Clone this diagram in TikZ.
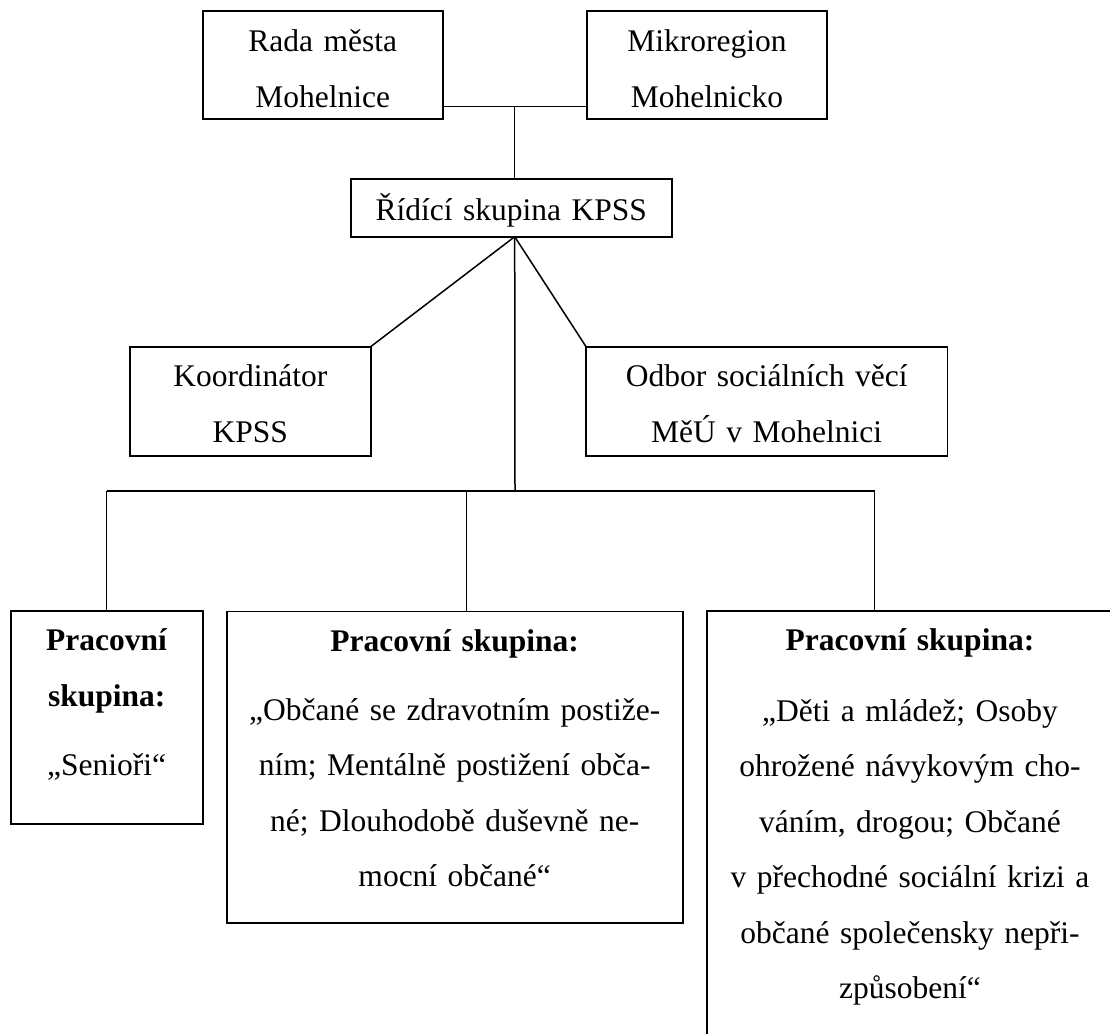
\documentclass[tikz,border=0pt]{standalone}
\usepackage{fontspec}
\setmainfont{Liberation Serif}
\begin{document}
\begin{tikzpicture}[x=1pt,y=-1pt,
  box/.style={draw, line width=1.7pt, inner sep=0pt, outer sep=0pt, align=center, anchor=base,
    font=\fontsize{31.5}{55.5}\selectfont},
  conn/.style={draw, line width=1.5pt}]
\fill[white] (0,0) rectangle (1110,1033);
\useasboundingbox (0,0) rectangle (1110,1033);

% top level
\node[box, text width=240pt, text height=41pt, text depth=67.3pt] (rada) at (322.7,51.7)
  {Rada města\\Mohelnice};
\node[box, text width=240.6pt, text height=41pt, text depth=67.3pt] (mikro) at (707,51.7)
  {Mikroregion\\Mohelnicko};
\node[box, text width=320.7pt, text height=41pt, text depth=16.7pt] (ridici) at (511.3,220)
  {Řídící skupina KPSS};

% second level
\node[box, text width=240.7pt, text height=40pt, text depth=69pt] (koord) at (250.3,386.7)
  {Koordinátor\\KPSS};
\node[box, text width=361.3pt, text height=40pt, text depth=69pt] (odbor) at (766.7,386.7)
  {Odbor sociálních věcí\\MěÚ v Mohelnici};

% working groups
\node[box, text width=192pt, text height=39.4pt, text depth=173.6pt] (b1) at (106.7,650.7)
  {\textbf{Pracovní}\\\textbf{skupina:}\\[14pt]„Senioři“};
\node[box, text width=456pt, text height=40.2pt, text depth=271.6pt] (b2) at (454.7,651.7)
  {\textbf{Pracovní skupina:}\\[13pt]„Občané se zdravotním postiže-\\ním; Mentálně postižení obča-\\né; Dlouhodobě duševně ne-\\mocní občané“};
\node[box, text width=406.6pt, text height=39.4pt, text depth=409.3pt] (b3) at (910,650.7)
  {\textbf{Pracovní skupina:}\\[15pt]„Děti a mládež; Osoby\\ohrožené návykovým cho-\\váním, drogou; Občané\\v přechodné sociální krizi a\\občané společensky nepři-\\způsobení“};

% connectors
\coordinate (j1) at (514.7,106.7);
\draw[conn] (rada.east |- j1) -- (mikro.west |- j1);
\draw[conn] (j1) -- (j1 |- ridici.north);
\coordinate (hub) at (j1 |- ridici.south);
\draw[conn] (hub) -- (koord.north east);
\draw[conn] (hub) -- (odbor.north west);
\coordinate (bus) at (515,491);
\draw[conn] (hub) -- (bus);
\coordinate (busM) at (466.7,491);
\coordinate (busR) at (874.7,491);
\draw[conn] (b1.north |- bus) -- (busR);
\draw[conn] (b1.north |- bus) -- (b1.north);
\draw[conn] (busM) -- (busM |- b2.north);
\draw[conn] (busR) -- (busR |- b3.north);
\end{tikzpicture}
\end{document}
